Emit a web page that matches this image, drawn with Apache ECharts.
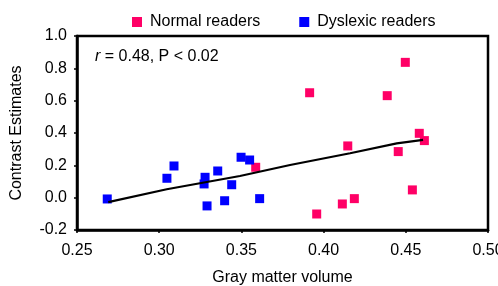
<!DOCTYPE html>
<html>
<head>
<meta charset="utf-8">
<script src="https://cdn.jsdelivr.net/npm/echarts@6/dist/echarts.min.js"></script>
<style>
  html, body { margin: 0; padding: 0; background: #fff; }
  #chart { width: 498px; height: 286px; }
</style>
</head>
<body>
<div id="chart"></div>
<script>
// values
const normalX = [0.3587, 0.3915, 0.4497, 0.4387, 0.4582, 0.4613, 0.4147, 0.4454, 0.4540, 0.4187, 0.4114, 0.3958];
const normalY = [0.188, 0.649, 0.837, 0.631, 0.398, 0.353, 0.320, 0.285, 0.048, -0.006, -0.039, -0.101];
const dyslexicX = [0.2684, 0.3047, 0.3090, 0.3279, 0.3273, 0.3291, 0.3356, 0.3441, 0.3398, 0.3498, 0.3550, 0.3611];
const dyslexicY = [-0.008, 0.120, 0.196, 0.126, 0.085, -0.051, 0.165, 0.080, -0.019, 0.250, 0.233, -0.006];
const fitX = [0.2690, 0.3046, 0.3491, 0.3796, 0.4161, 0.4445, 0.4605];
const fitY = [-0.028, 0.052, 0.134, 0.202, 0.275, 0.336, 0.357];

const font = "Arial, 'Liberation Sans', sans-serif";
const pair = (xs, ys) => xs.map((x, i) => [x, ys[i]]);

const chart = echarts.init(document.getElementById("chart"));

const option = {
  animation: false,
  textStyle: { fontFamily: font, color: "#000" },
  title: {
    left: 90,
    top: 44,
    text: "{i|r} = 0.48, P < 0.02",
    textStyle: {
      fontFamily: font,
      fontSize: 16,
      fontWeight: "normal",
      color: "#000",
      rich: {
        i: { fontFamily: font, fontSize: 16, fontStyle: "italic", color: "#000" },
      },
    },
  },
  legend: {
    left: 127,
    top: 9,
    itemWidth: 10,
    itemHeight: 10,
    itemGap: 39,
    textStyle: { fontFamily: font, fontSize: 16, color: "#000", padding: [0, 0, 0, 3] },
    data: [
      { name: "Normal readers", icon: "rect" },
      { name: "Dyslexic readers", icon: "rect" },
    ],
  },
  grid: {
    left: 77,
    right: 10,
    top: 36,
    bottom: 56,
    outerBoundsMode: "none",
    show: true,
    borderColor: "#000",
    borderWidth: 2.5,
  },
  xAxis: {
    type: "value",
    min: 0.25,
    max: 0.5,
    interval: 0.05,
    name: "Gray matter volume",
    nameLocation: "middle",
    nameGap: 40,
    nameTextStyle: { fontFamily: font, fontSize: 16, color: "#000" },
    axisLine: { onZero: false, lineStyle: { color: "#000", width: 2.5 } },
    axisTick: { show: true, length: 3, lineStyle: { color: "#000", width: 1.5 } },
    axisLabel: {
      margin: 13,
      fontFamily: font,
      fontSize: 16,
      color: "#000",
      formatter: (v) => v.toFixed(2),
    },
    splitLine: { show: false },
  },
  yAxis: {
    type: "value",
    min: -0.2,
    max: 1.0,
    interval: 0.2,
    name: "Contrast Estimates",
    nameLocation: "middle",
    nameGap: 52,
    nameTextStyle: { fontFamily: font, fontSize: 16, color: "#000" },
    axisLine: { show: true, onZero: false, lineStyle: { color: "#000", width: 2.5 } },
    axisTick: { show: true, length: 3, lineStyle: { color: "#000", width: 1.5 } },
    axisLabel: {
      margin: 10,
      fontFamily: font,
      fontSize: 16,
      color: "#000",
      formatter: (v) => v.toFixed(1),
    },
    splitLine: { show: false },
  },
  series: [
    {
      name: "Normal readers",
      type: "scatter",
      symbol: "rect",
      symbolSize: 9,
      itemStyle: { color: "#ff0066", opacity: 1 },
      data: pair(normalX, normalY),
    },
    {
      name: "Dyslexic readers",
      type: "scatter",
      symbol: "rect",
      symbolSize: 9,
      itemStyle: { color: "#0000ff", opacity: 1 },
      data: pair(dyslexicX, dyslexicY),
    },
    {
      name: "fit",
      type: "line",
      symbol: "none",
      lineStyle: { color: "#000", width: 2.2 },
      data: pair(fitX, fitY),
      z: 3,
    },
  ],
};

chart.setOption(option);
</script>
</body>
</html>
